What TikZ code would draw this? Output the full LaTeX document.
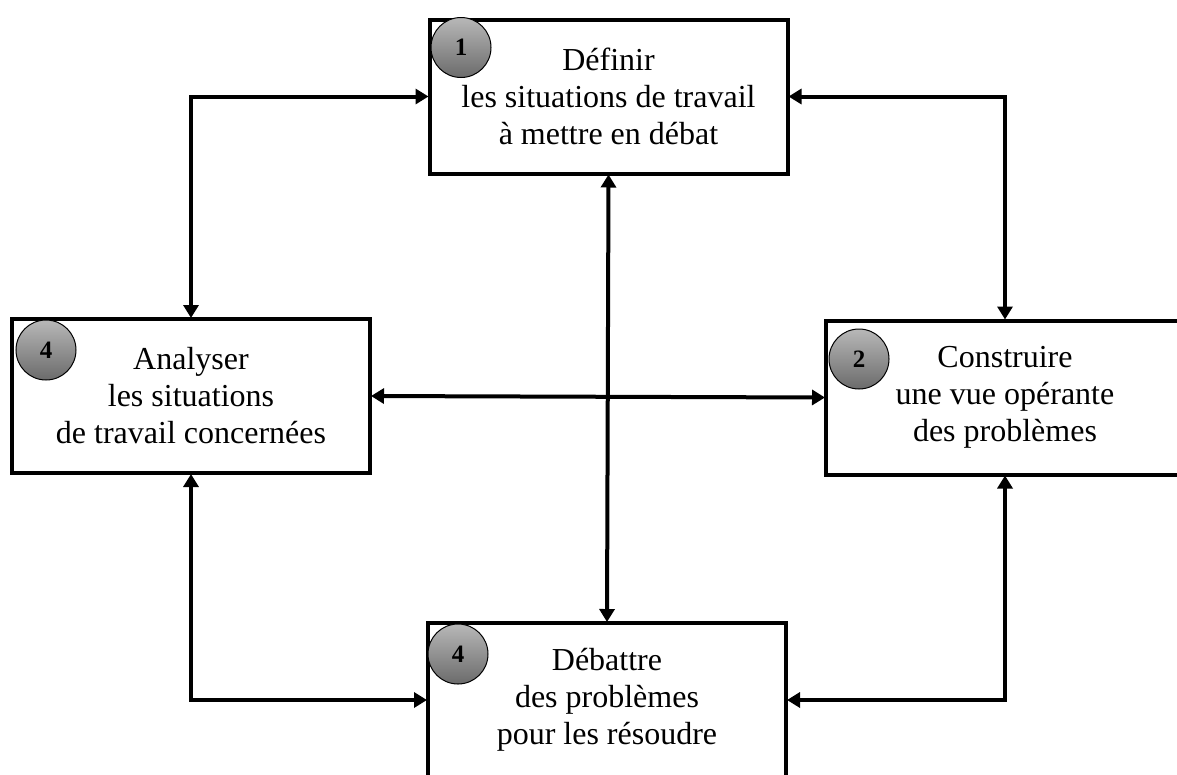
\documentclass[tikz,border=0pt]{standalone}
\usepackage{fontspec}
\setmainfont{Liberation Serif}
\usetikzlibrary{arrows.meta}
\tikzset{
  box/.style={draw=black, line width=4pt, fill=white, minimum width=358pt, minimum height=154pt,
    inner sep=0pt, align=center, font=\fontsize{32}{37}\selectfont},
  numcircle/.style={circle, draw=black, line width=1pt, minimum size=60pt, inner sep=0pt,
    top color=black!28, bottom color=black!58, font=\fontsize{25}{25}\selectfont\bfseries},
  link/.style={line width=4pt, {Triangle[length=13pt,width=15pt]}-{Triangle[length=13pt,width=15pt]}, shorten <=-1pt, shorten >=-1pt}
}
\begin{document}
\begin{tikzpicture}[x=1pt,y=-1pt]
\useasboundingbox (0,0) rectangle (1177,774);
\clip (0,0) rectangle (1177,774);
\node[box] (top) at (608.5,96.5) {Définir\\les situations de travail\\à mettre en débat};
\node[box] (left) at (191,396) {Analyser\\les situations\\de travail concernées};
\node[box] (right) at (1005,397.5) {Construire\\une vue opérante\\des problèmes};
\node[box] (bottom) at (607,700) {Débattre\\des problèmes\\pour les résoudre};
\node[numcircle] (c1) at (461,47.5) {\raisebox{-3pt}{1}};
\node[numcircle] (c4a) at (46,350) {\raisebox{-2pt}{4}};
\node[numcircle] (c2) at (859,359) {\raisebox{-2pt}{2}};
\node[numcircle] (c4b) at (458,654) {\raisebox{-2pt}{4}};
\draw[link] (top.west) -| (left.north);
\draw[link] (top.east) -| (right.north);
\draw[link] (top.south) -- (bottom.north);
\draw[link] (left.east) -- (right.west);
\draw[link] (left.south) |- (bottom.west);
\draw[link] (right.south) |- (bottom.east);
\end{tikzpicture}
\end{document}
